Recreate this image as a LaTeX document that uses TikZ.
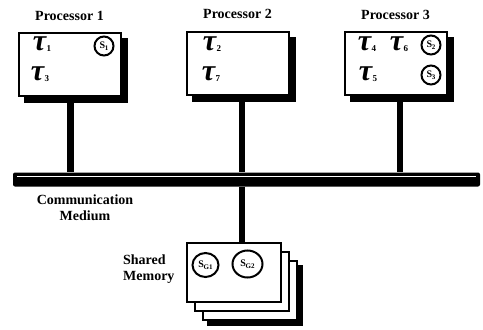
\documentclass[tikz,border=0pt]{standalone}
\usepackage{fontspec}
\setmainfont{Liberation Serif}
\usetikzlibrary{positioning, shadows, shapes.geometric}

% a task: large tau with a small bold index
\newcommand{\task}[1]{{\fontsize{30}{30}\selectfont\bfseries\itshape τ}\kern0.5pt\raisebox{-1pt}{\fontsize{9}{9}\selectfont\bfseries #1}}
% a semaphore label inside its ring
\newcommand{\sem}[1]{{\fontsize{10}{10}\selectfont\bfseries S\kern-.5pt\raisebox{-1.5pt}{\fontsize{7}{7}\selectfont #1}}}

\begin{document}
\begin{tikzpicture}[
   x=1pt, y=-1pt,
   font=\fontsize{14}{16}\selectfont\bfseries,
   procbox/.style = {draw, line width=2pt, fill=white, minimum width=102pt, minimum height=63pt,
      general shadow={shadow xshift=6pt, shadow yshift=-6pt, draw=black, fill=black}},
   membox/.style = {draw, line width=2pt, fill=white, minimum width=94pt, minimum height=59pt},
   sembox/.style = {circle, draw, line width=2pt, minimum size=19pt, inner sep=0pt},
   sgbox/.style = {ellipse, draw, line width=2pt, inner sep=0pt},
   tasknode/.style = {inner sep=0pt},
   stemline/.style = {line width=6.5pt}]
   \useasboundingbox (0,0) rectangle (483,330);

   % processors
   \node[procbox] (p1) at (69.5,64.5) {};
   \node[procbox] (p2) at (237.5,63) {};
   \node[procbox] (p3) at (395.5,63.5) {};
   \node[above=8pt of p1] (l1) {Processor 1};
   \node[above=8pt of p2] (l2) {Processor 2};
   \node[above=8pt of p3] (l3) {Processor 3};

   % tasks and local semaphores
   \node[tasknode] (t1) at (42,44) {\task{1}};
   \node[tasknode] (t3) at (40,74) {\task{3}};
   \node[tasknode] (t2) at (212,44) {\task{2}};
   \node[tasknode] (t7) at (211,74) {\task{7}};
   \node[tasknode] (t4) at (367,44) {\task{4}};
   \node[tasknode] (t6) at (399,44) {\task{6}};
   \node[tasknode] (t5) at (368,74) {\task{5}};
   \node[sembox] (s1) at (104,46) {\sem{1}};
   \node[sembox] (s2) at (431,45) {\sem{2}};
   \node[sembox] (s3) at (431,75) {\sem{3}};

   % bus
   \node[fill=black, rounded corners=2pt, inner sep=0pt,
         minimum width=467pt, minimum height=14pt] (bus) at (246.5,179.5) {};
   \draw[white, line width=1.2pt] ([xshift=4pt,yshift=-4.5pt]bus.north west)
      -- ([xshift=-4pt,yshift=-4.5pt]bus.north east);
   \node[align=center] (com) at (85,208) {Communication\\Medium};

   % shared memory
   \node[membox,
         general shadow={shadow xshift=21pt, shadow yshift=-23pt, draw=black, fill=black, line width=2pt},
         copy shadow={shadow xshift=16pt, shadow yshift=-18pt, line width=2pt},
         copy shadow={shadow xshift=8pt, shadow yshift=-9pt, line width=2pt}] (mem) at (234,272) {};
   \node[left=8pt of mem, yshift=3pt, align=left] (meml) {Shared\\Memory};
   \node[sgbox, minimum width=26pt, minimum height=24pt] (sg1) at (205.5,265) {\sem{G1}};
   \node[sgbox, minimum width=30pt, minimum height=27pt] (sg2) at (247.5,264) {\sem{G2}};

   % connections
   \coordinate (j1) at ([xshift=1pt]p1.south);
   \coordinate (j2) at ([xshift=4.5pt]p2.south);
   \coordinate (j3) at ([xshift=4.5pt]p3.south);
   \draw[stemline] (j1) -- (j1 |- bus.north);
   \draw[stemline] (j2) -- (j2 |- bus.north);
   \draw[stemline] (j3) -- (j3 |- bus.north);
   \draw[stemline] (j2 |- bus.south) -- (j2 |- mem.north);
\end{tikzpicture}
\end{document}
